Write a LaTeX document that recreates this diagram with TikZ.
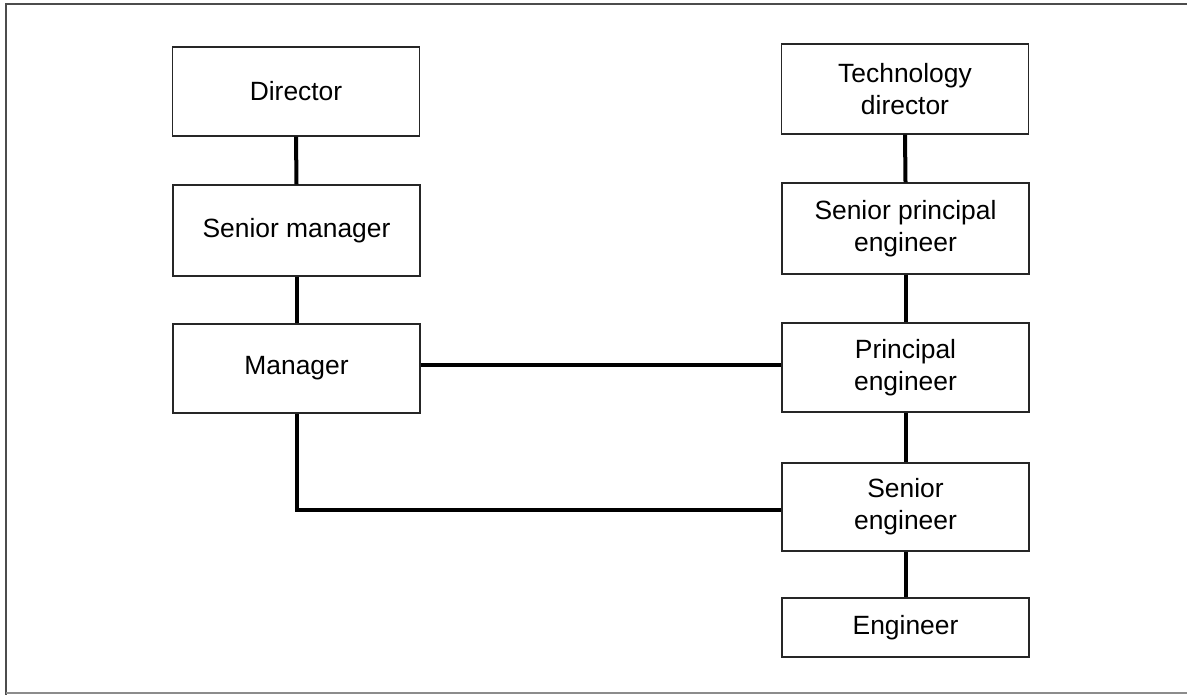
\documentclass[tikz,border=0pt]{standalone}
\usepackage{fontspec}
\setmainfont{Liberation Sans}
\begin{document}
\begin{tikzpicture}[x=0.75pt,y=-0.75pt,
  box/.style={draw=black!85,line width=1.1pt,rectangle,inner sep=0pt,
    minimum width=185pt,align=center,
    font=\fontsize{19.8}{24}\selectfont},
  link/.style={draw=black,line width=3pt},
  frame/.style={draw=black!70,line width=0.9pt}]
\useasboundingbox (0,0) rectangle (1187,695);
\draw[frame] (1187,4) -- (6,4) -- (6,695);
\draw[frame,draw=black!45] (6,693) -- (1187,693);
% left column
\node[box,minimum height=66.5pt] (dir) at (296,91.5) {Director};
\node[box,minimum height=68pt] (sm) at (296.5,230.5) {Senior manager};
\node[box,minimum height=67pt] (mgr) at (296.5,368.5) {Manager};
% right column
\node[box,minimum height=67.5pt] (td) at (905,89) {Technology\\director};
\node[box,minimum height=68pt] (spe) at (905.5,228.5) {Senior principal\\engineer};
\node[box,minimum height=67pt] (pe) at (905.5,367.5) {Principal\\engineer};
\node[box,minimum height=66pt] (se) at (905.5,507) {Senior\\engineer};
\node[box,minimum height=44pt] (eng) at (905.5,627.5) {Engineer};
% connectors
\draw[link] (dir.south) -- (sm.north);
\draw[link] (sm.south) -- (mgr.north);
\draw[link] (td.south) -- (spe.north);
\draw[link] (spe.south) -- (pe.north);
\draw[link] (pe.south) -- (se.north);
\draw[link] (se.south) -- (eng.north);
\draw[link] (mgr.east |- 0,365) -- (pe.west |- 0,365);
\draw[link] (mgr.south) |- (se.west |- 0,510);
\end{tikzpicture}
\end{document}
